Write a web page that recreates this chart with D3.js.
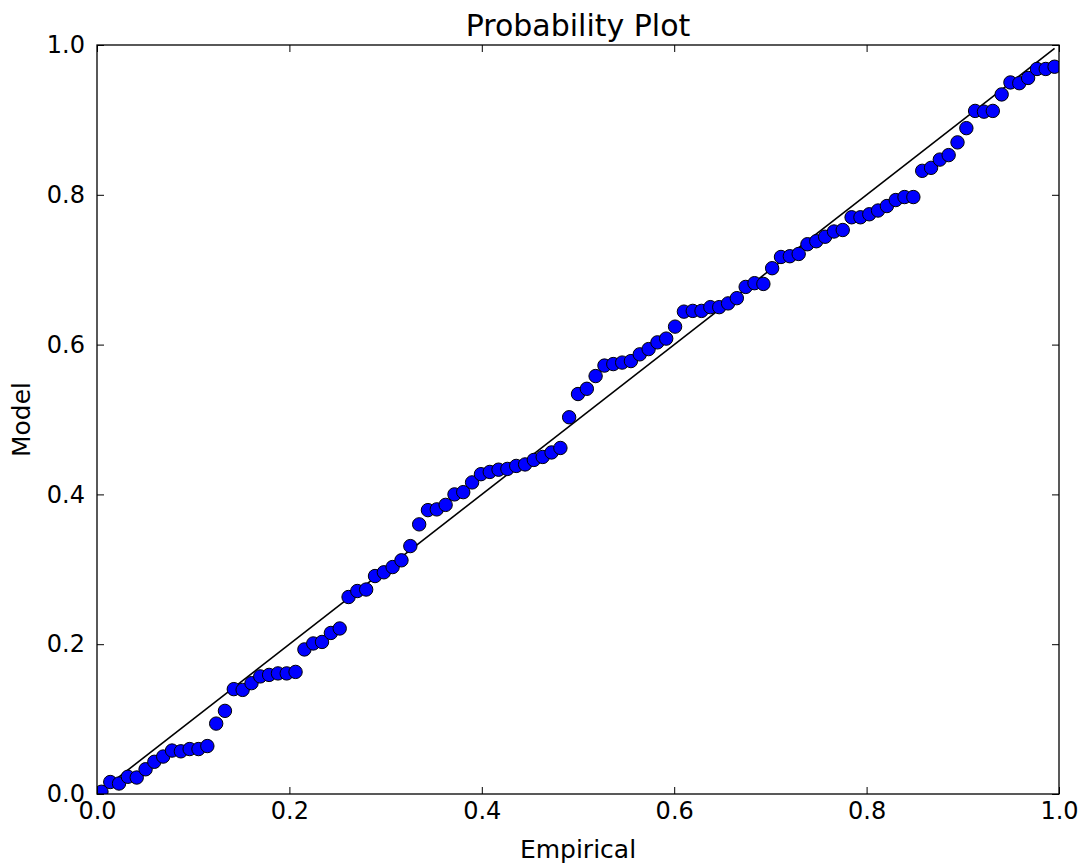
<!DOCTYPE html>
<html>
<head>
<meta charset="utf-8">
<script src="https://cdn.jsdelivr.net/npm/d3@7"></script>
<style>
  html, body { margin: 0; padding: 0; background: #fff; }
  svg { display: block; font-family: "DejaVu Sans", sans-serif; }
</style>
</head>
<body>
<svg id="chart" width="1088" height="867"></svg>
<script>
const empirical = [0.0046,0.0138,0.0229,0.0321,0.0413,0.0505,0.0596,0.0688,0.0780,0.0872,
0.0963,0.1055,0.1147,0.1239,0.1330,0.1422,0.1514,0.1606,0.1697,0.1789,
0.1881,0.1972,0.2064,0.2156,0.2248,0.2339,0.2431,0.2523,0.2615,0.2706,
0.2798,0.2890,0.2982,0.3073,0.3165,0.3257,0.3349,0.3440,0.3532,0.3624,
0.3716,0.3807,0.3899,0.3991,0.4083,0.4174,0.4266,0.4358,0.4450,0.4541,
0.4633,0.4725,0.4817,0.4908,0.5000,0.5092,0.5183,0.5275,0.5367,0.5459,
0.5550,0.5642,0.5734,0.5826,0.5917,0.6009,0.6101,0.6193,0.6284,0.6376,
0.6468,0.6560,0.6651,0.6743,0.6835,0.6927,0.7018,0.7110,0.7202,0.7294,
0.7385,0.7477,0.7569,0.7661,0.7752,0.7844,0.7936,0.8028,0.8119,0.8211,
0.8303,0.8394,0.8486,0.8578,0.8670,0.8761,0.8853,0.8945,0.9037,0.9128,
0.9220,0.9312,0.9404,0.9495,0.9587,0.9679,0.9771,0.9862,0.9954];

const model = [0.003,0.016,0.014,0.023,0.022,0.033,0.043,0.050,0.058,0.057,
0.060,0.060,0.064,0.094,0.111,0.140,0.139,0.148,0.157,0.159,
0.161,0.161,0.163,0.193,0.201,0.203,0.215,0.221,0.263,0.271,
0.273,0.291,0.296,0.303,0.312,0.331,0.360,0.379,0.380,0.386,
0.400,0.403,0.416,0.427,0.430,0.433,0.434,0.438,0.440,0.446,
0.450,0.456,0.462,0.503,0.534,0.541,0.558,0.572,0.574,0.576,
0.578,0.587,0.594,0.603,0.608,0.624,0.644,0.645,0.645,0.650,
0.650,0.655,0.662,0.677,0.682,0.681,0.702,0.717,0.718,0.721,
0.734,0.738,0.744,0.751,0.753,0.770,0.770,0.774,0.779,0.785,
0.793,0.797,0.797,0.832,0.836,0.847,0.853,0.870,0.889,0.912,
0.911,0.912,0.934,0.950,0.949,0.956,0.968,0.968,0.971];

const xTicks = [0.0, 0.2, 0.4, 0.6, 0.8, 1.0];
const yTicks = [0.0, 0.2, 0.4, 0.6, 0.8, 1.0];
const titleText = "Probability Plot";
const xLabel = "Empirical";
const yLabel = "Model";

(function () {
const mL = 97, mR = 1059, mT = 45, mB = 794;
const svg = d3.select("#chart");

const x = d3.scaleLinear().domain([0, 1]).range([mL, mR]);
const y = d3.scaleLinear().domain([0, 1]).range([mB, mT]);

svg.append("defs").append("clipPath").attr("id", "clip")
  .append("rect").attr("x", mL).attr("y", mT)
  .attr("width", mR - mL).attr("height", mB - mT);

const plot = svg.append("g").attr("clip-path", "url(#clip)");

// reference line
const lo = d3.min(empirical), hi = d3.max(empirical);
plot.append("line")
  .attr("x1", x(lo)).attr("y1", y(lo))
  .attr("x2", x(hi)).attr("y2", y(hi))
  .attr("stroke", "#000").attr("stroke-width", 1.6);

// points
plot.selectAll("circle").data(empirical).enter().append("circle")
  .attr("cx", d => x(d))
  .attr("cy", (d, i) => y(model[i]))
  .attr("r", 6.7)
  .attr("fill", "#0000ff")
  .attr("stroke", "#000")
  .attr("stroke-width", 1);

// axes with inward ticks on all sides
const tickLen = 7;
const fmt = d3.format(".1f");
const axB = d3.axisBottom(x).tickValues(xTicks).tickFormat(fmt).tickSizeInner(-tickLen).tickSizeOuter(0).tickPadding(8);
const axT = d3.axisTop(x).tickValues(xTicks).tickFormat("").tickSizeInner(-tickLen).tickSizeOuter(0);
const axL = d3.axisLeft(y).tickValues(yTicks).tickFormat(fmt).tickSizeInner(-tickLen).tickSizeOuter(0).tickPadding(12);
const axR = d3.axisRight(y).tickValues(yTicks).tickFormat("").tickSizeInner(-tickLen).tickSizeOuter(0);

function style(g) {
  g.select(".domain").remove();
  g.selectAll(".tick line").attr("stroke", "#000").attr("stroke-width", 1);
  g.selectAll(".tick text").attr("fill", "#000").style("font-size", "24px")
    .style("font-family", "'DejaVu Sans', sans-serif");
}
svg.append("g").attr("transform", `translate(0,${mB})`).call(axB).call(style);
svg.append("g").attr("transform", `translate(0,${mT})`).call(axT).call(style);
svg.append("g").attr("transform", `translate(${mL},0)`).call(axL).call(style);
svg.append("g").attr("transform", `translate(${mR},0)`).call(axR).call(style);

// frame
svg.append("rect").attr("x", mL).attr("y", mT)
  .attr("width", mR - mL).attr("height", mB - mT)
  .attr("fill", "none").attr("stroke", "#000").attr("stroke-width", 1.3);

// title and labels
svg.append("text").attr("x", (mL + mR) / 2).attr("y", 36)
  .attr("text-anchor", "middle").style("font-size", "30px").text(titleText);
svg.append("text").attr("x", (mL + mR) / 2).attr("y", 858)
  .attr("text-anchor", "middle").style("font-size", "25px").text(xLabel);
svg.append("text").attr("transform", `translate(30,${(mT + mB) / 2}) rotate(-90)`)
  .attr("text-anchor", "middle").style("font-size", "25px").text(yLabel);
})();
</script>
</body>
</html>
